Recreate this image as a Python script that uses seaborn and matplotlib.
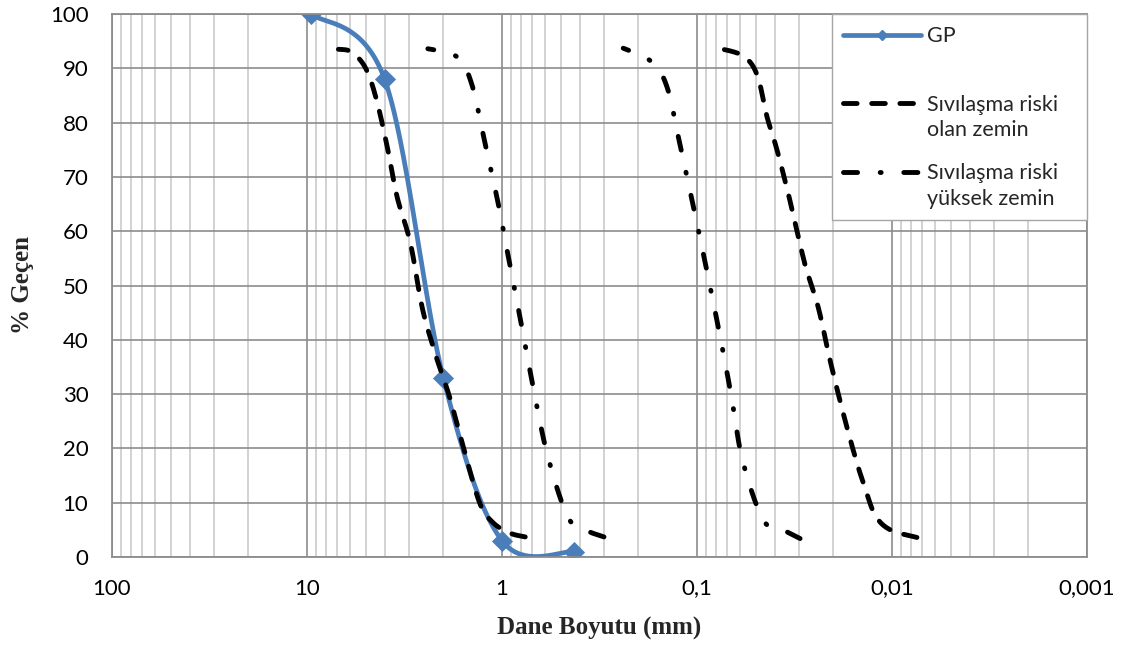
import numpy as np
import pandas as pd
import matplotlib
matplotlib.use("Agg")
import matplotlib.pyplot as plt
import seaborn as sns
from matplotlib.lines import Line2D
from matplotlib.legend_handler import HandlerLine2D
from matplotlib.ticker import LogLocator, FuncFormatter, NullFormatter

# ---------------- data ----------------
gp_size = [9.5, 4.0, 2.0, 1.0, 0.425]
gp_pass = [100, 88, 33, 3, 1]

# "Sıvılaşma riski olan zemin" - coarse boundary (listed from bottom end)
olan_left_size = [0.76, 0.91, 1.11, 1.30, 1.58, 1.85, 2.15, 2.55, 2.95, 3.45, 3.85, 4.4, 5.0, 5.9, 6.9]
olan_left_pass = [3.7, 4.4, 6.3, 9.9, 20.3, 29.3, 36.3, 45.5, 57.8, 66.3, 75.0, 84.2, 90.0, 93.0, 93.5]
# "Sıvılaşma riski olan zemin" - fine boundary
olan_right_size = [0.00745, 0.0102, 0.0122, 0.0138, 0.0153, 0.0178, 0.0208, 0.0239, 0.0279, 0.0334,
                   0.0389, 0.0437, 0.0492, 0.0581, 0.0778]
olan_right_pass = [3.6, 5.0, 7.7, 12.9, 17.9, 26.5, 36.3, 46.0, 53.8, 65.7, 75.0, 81.0, 88.8, 92.3, 93.7]

# "Sıvılaşma riski yüksek zemin" - coarse boundary
yuksek_left_size = [0.30, 0.375, 0.46, 0.58, 0.68, 0.78, 0.90, 1.035, 1.21, 1.43, 1.70, 2.40]
yuksek_left_pass = [3.7, 5.0, 7.4, 18.3, 29.8, 41.2, 52.7, 64.3, 75.5, 87.1, 92.1, 93.6]
# "Sıvılaşma riski yüksek zemin" - fine boundary
yuksek_right_size = [0.0296, 0.0362, 0.0457, 0.0583, 0.0664, 0.0762, 0.0884, 0.103, 0.121, 0.142, 0.171, 0.239]
yuksek_right_pass = [3.4, 5.0, 6.8, 17.7, 29.3, 40.7, 52.2, 63.6, 75.1, 86.4, 91.2, 93.7]

label_gp = "GP"
label_olan = "Sıvılaşma riski\nolan zemin"
label_yuksek = "Sıvılaşma riski\nyüksek zemin"
x_label = "Dane Boyutu (mm)"
y_label = "% Geçen"
y_ticks = list(range(0, 101, 10))

# ---------------- style ----------------
sns.set_style("white")
plt.rcParams["font.family"] = ["Lato", "DejaVu Sans"]

BLUE = "#4A7EBB"
GRID_DARK = "#8c8c8c"
GRID_LIGHT = "#c6c6c6"
LW_BLACK = 3.5
DASHED = (0, (2.8, 3.0))
DASHDOT = (0, (2.9, 4.65, 0.2, 4.65))


def smooth(xs, ys, n=40):
    """Excel-style smoothed line (cubic Bezier / Catmull-Rom) in log-x space."""
    P = np.column_stack([np.log10(np.asarray(xs, float)), np.asarray(ys, float)])
    P = np.vstack([P[0], P, P[-1]])
    t = np.linspace(0, 1, n, endpoint=False)[:, None]
    segs = []
    for i in range(1, len(P) - 2):
        p0, p1, p2, p3 = P[i - 1], P[i], P[i + 1], P[i + 2]
        c1 = p1 + (p2 - p0) / 6.0
        c2 = p2 - (p3 - p1) / 6.0
        segs.append((1 - t) ** 3 * p1 + 3 * (1 - t) ** 2 * t * c1 + 3 * (1 - t) * t ** 2 * c2 + t ** 3 * p2)
    segs.append(P[-2][None, :])
    S = np.vstack(segs)
    return pd.DataFrame({"size": 10 ** S[:, 0], "pass": S[:, 1]})


fig = plt.figure(figsize=(11.24, 6.49), dpi=100)
ax = fig.add_axes([112 / 1124, 1 - 557 / 649, 975 / 1124, 543 / 649])

# GP curve (smoothed) + markers
sns.lineplot(data=smooth(gp_size, gp_pass), x="size", y="pass", ax=ax, sort=False, estimator=None,
             color=BLUE, linewidth=3.4, zorder=2)
sns.scatterplot(x=gp_size, y=gp_pass, ax=ax, marker="D", s=105, color=BLUE, edgecolor=BLUE,
                linewidth=0.5, zorder=2.5)

# boundary curves
for xs, ys, ls in [(olan_left_size, olan_left_pass, DASHED),
                   (olan_right_size, olan_right_pass, DASHED),
                   (yuksek_left_size, yuksek_left_pass, DASHDOT),
                   (yuksek_right_size, yuksek_right_pass, DASHDOT)]:
    sns.lineplot(data=smooth(xs, ys), x="size", y="pass", ax=ax, sort=False, estimator=None,
                 color="black", linewidth=LW_BLACK, zorder=3)
    ln = ax.get_lines()[-1]
    ln.set_linestyle(ls)
    ln.set_dash_capstyle("round")

# axes
ax.set_xscale("log")
ax.set_xlim(100, 0.001)
ax.set_ylim(0, 100)
ax.set_yticks(y_ticks)
ax.xaxis.set_major_locator(LogLocator(base=10, numticks=12))
ax.xaxis.set_minor_locator(LogLocator(base=10, subs=np.arange(2, 10), numticks=12))
ax.xaxis.set_minor_formatter(NullFormatter())
ax.xaxis.set_major_formatter(FuncFormatter(lambda v, p: f"{v:g}".replace(".", ",")))

ax.set_axisbelow(True)
ax.grid(True, which="major", axis="both", color=GRID_DARK, linewidth=1.2)
ax.grid(True, which="minor", axis="x", color=GRID_LIGHT, linewidth=1.1)
for s in ax.spines.values():
    s.set_color(GRID_DARK)
    s.set_linewidth(1.3)

ax.tick_params(axis="x", which="major", direction="out", length=4.5, width=1.2, color=GRID_DARK,
               labelsize=16, pad=11, labelcolor="black")
ax.tick_params(axis="x", which="minor", length=0)
ax.tick_params(axis="y", which="both", length=0, labelsize=16, pad=17, labelcolor="black")

ax.set_xlabel(x_label, fontfamily="Liberation Serif", fontweight="bold", fontsize=18)
ax.set_ylabel(y_label, fontfamily="Liberation Serif", fontweight="bold", fontsize=18)
ax.xaxis.set_label_coords(0.5, -0.110)
ax.yaxis.set_label_coords(-0.080, 0.5)


# legend
class FirstLineHandler(HandlerLine2D):
    def __init__(self, shift, **kw):
        super().__init__(**kw)
        self.shift = shift

    def create_artists(self, legend, orig_handle, xdescent, ydescent, width, height, fontsize, trans):
        arts = super().create_artists(legend, orig_handle, xdescent, ydescent, width, height, fontsize, trans)
        for a in arts:
            a.set_ydata(np.asarray(a.get_ydata(), float) + self.shift * fontsize)
        return arts


h_gp = Line2D([], [], color=BLUE, linewidth=3.4, marker="D", markersize=10)
h_olan = Line2D([], [], color="black", linewidth=LW_BLACK, linestyle=DASHED, dash_capstyle="round")
h_yuksek = Line2D([], [], color="black", linewidth=LW_BLACK, linestyle=DASHDOT, dash_capstyle="round")
hm = {h: FirstLineHandler(0.66, numpoints=1) for h in (h_gp, h_olan, h_yuksek)}

leg = ax.legend([h_gp, h_olan, h_yuksek], [label_gp + "\n ", label_olan, label_yuksek],
                handler_map=hm, loc="upper left", bbox_to_anchor=(0.738, 0.0, 0.262, 1.0),
                mode="expand", borderaxespad=0, frameon=True, fancybox=False, framealpha=1,
                facecolor="white", edgecolor="#a6a6a6", prop={"family": "Lato", "size": 15.5},
                handlelength=3.6, handletextpad=0.3, borderpad=0.55, labelspacing=1.1,
                markerscale=0.55, numpoints=1)
leg.get_frame().set_linewidth(1.0)
for t in leg.get_texts():
    t.set_linespacing(1.32)

fig.savefig("out.png", dpi=100)
